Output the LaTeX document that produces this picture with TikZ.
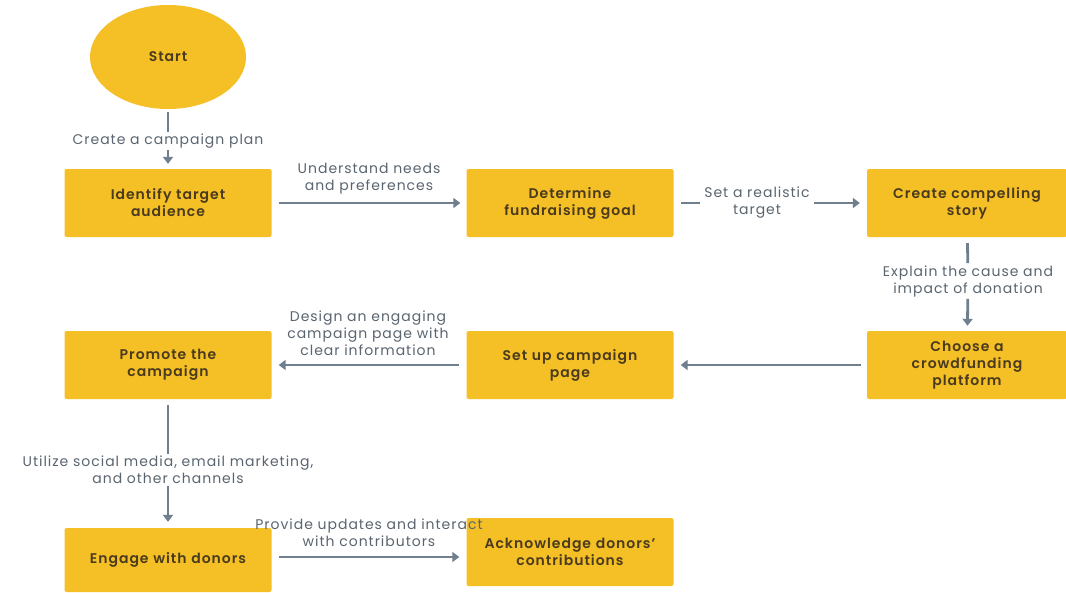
\documentclass[tikz,border=0pt]{standalone}
\usepackage{fontspec}
\setmainfont{Poppins}[LetterSpace=7, BoldFont={Poppins SemiBold}]
\usetikzlibrary{arrows.meta,shapes.geometric}
\definecolor{boxfill}{HTML}{F5BF26}
\definecolor{boxtext}{HTML}{4A3B1E}
\definecolor{edge}{HTML}{6F7F8E}
\definecolor{labtext}{HTML}{5A6570}
\begin{document}
\begin{tikzpicture}[x=1pt,y=-1pt,
  stepbox/.style={rectangle, rounded corners=2pt, fill=boxfill, minimum width=207pt, minimum height=68pt, inner sep=0pt, text width=200pt, align=center, font=\fontsize{14}{17}\selectfont\bfseries, text=boxtext},
  startnode/.style={ellipse, fill=boxfill, minimum width=156pt, minimum height=104pt, inner sep=0pt, font=\fontsize{14}{17}\selectfont\bfseries, text=boxtext},
  lab/.style={font=\fontsize{14}{17}\selectfont, text=labtext, align=center, inner sep=2pt},
  wlab/.style={lab, fill=white},
  conn/.style={draw=edge, line width=2.8pt, -{Triangle[length=7pt,width=10pt]}},
  plain/.style={draw=edge, line width=2.8pt}
]
\useasboundingbox (0,0) rectangle (1066,592);
\fill[white] (0,0) rectangle (1066,592);

\node[startnode] (start) at (168,57) {Start};
\node[stepbox] (ident) at (168,203) {Identify target\\audience};
\node[stepbox] (det) at (570,203) {Determine\\fundraising goal};
\node[stepbox, minimum width=198pt] (story) at (967,203) {Create compelling\\story};
\node[stepbox, minimum width=198pt] (choose) at (967,365) {Choose a\\crowdfunding\\platform};
\node[stepbox] (setup) at (570,365) {Set up campaign\\page};
\node[stepbox] (promote) at (168,365) {Promote the\\campaign};
\node[stepbox, minimum height=64pt] (engage) at (168,560) {Engage with donors};
\node[stepbox] (ack) at (570,552) {Acknowledge donors'\\contributions};

% labels
\node[wlab] (l1) at (168,141) {Create a campaign plan};
\node[lab] (l2) at (369,179) {Understand needs\\and preferences};
\node[wlab, inner xsep=4pt] (l3) at (757,203) {Set a realistic\\target};
\node[wlab] (l4) at (968,281) {Explain the cause and\\impact of donation};
\node[lab] (l6) at (368,333) {Design an engaging\\campaign page with\\clear information};
\node[wlab] (l7) at (168,470) {Utilize social media, email marketing,\\and other channels};
\node[lab] (l8) at (369,533) {Provide updates and interact\\with contributors};

% connectors
\draw[plain, shorten <=3pt] (start) -- (l1);
\draw[conn, shorten >=5pt] (l1) -- (ident);
\draw[conn, shorten <=7pt, shorten >=6pt] (ident) -- (det);
\draw[plain, shorten <=7pt] (det) -- (l3);
\draw[conn, shorten >=7pt] (l3) -- (story);
\draw[plain, shorten <=6pt] (story) -- (l4);
\draw[conn, shorten >=5pt] (l4) -- (choose);
\draw[conn, shorten <=6pt, shorten >=7pt] (choose) -- (setup);
\draw[conn, shorten <=7pt, shorten >=7pt] (setup) -- (promote);
\draw[plain, shorten <=6pt] (promote) -- (l7);
\draw[conn, shorten >=6pt] (l7) -- (engage);
\draw[conn, shorten <=7pt, shorten >=7pt] ([yshift=3pt]engage.east) -- ([yshift=3pt]engage.east -| ack.west);
\end{tikzpicture}
\end{document}
